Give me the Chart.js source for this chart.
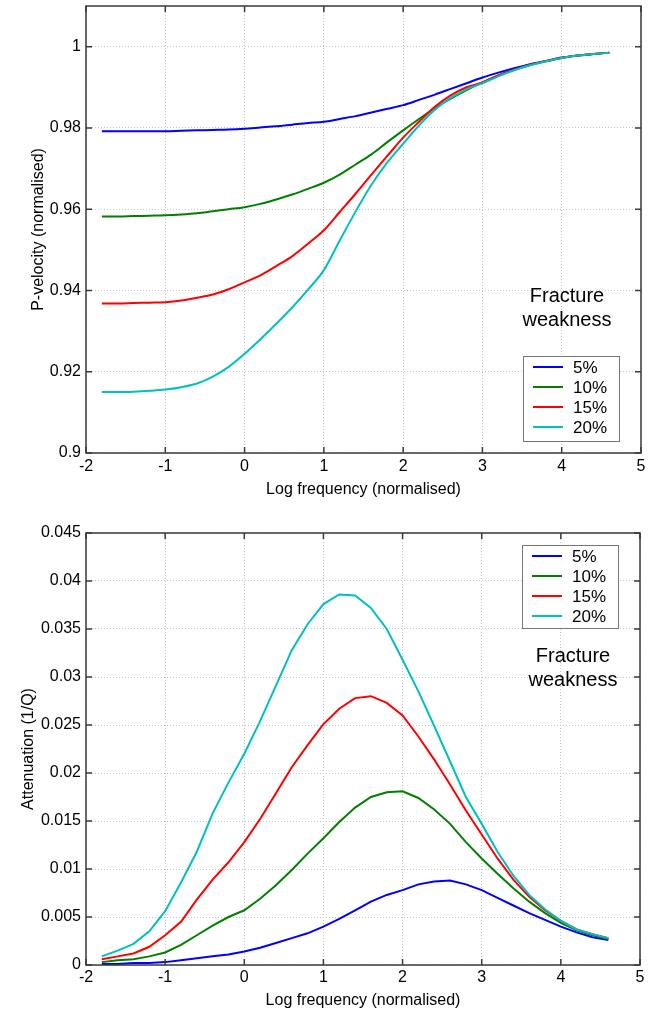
<!DOCTYPE html>
<html>
<head>
<meta charset="utf-8">
<script src="https://cdn.jsdelivr.net/npm/chart.js@4/dist/chart.umd.min.js"></script>
<style>
  html, body { margin: 0; padding: 0; background: #fff; }
  #wrap { position: relative; width: 656px; height: 1011px; }
  canvas { position: absolute; left: 0; }
  #velChart { top: 0; }
  #attChart { top: 505px; }
</style>
</head>
<body>
<div id="wrap">
  <canvas id="velChart" width="656" height="505"></canvas>
  <canvas id="attChart" width="656" height="506"></canvas>
</div>
<script>
// log frequency (normalised), shared by every curve
const logFreq = [-1.8, -1.6, -1.4, -1.2, -1.0, -0.8, -0.6, -0.4, -0.2, 0.0, 0.2, 0.4, 0.6, 0.8, 1.0,
  1.2, 1.4, 1.6, 1.8, 2.0, 2.2, 2.4, 2.6, 2.8, 3.0, 3.2, 3.4, 3.6, 3.8, 4.0, 4.2, 4.4, 4.6];

const weakness = ['5%', '10%', '15%', '20%'];
const colours = ['#0000ff', '#008000', '#ff0000', '#00c0c0'];

// P-velocity (normalised)
const vel5 = [0.9792, 0.9792, 0.9792, 0.9792, 0.9792, 0.9793, 0.9794, 0.9795, 0.9796, 0.9798, 0.9801,
  0.9804, 0.9808, 0.9812, 0.9815, 0.9822, 0.9829, 0.9838, 0.9847, 0.9856, 0.9869, 0.9882, 0.9896,
  0.9910, 0.9924, 0.9936, 0.9947, 0.9957, 0.9965, 0.9973, 0.9978, 0.9982, 0.9985];
const vel10 = [0.9582, 0.9582, 0.9583, 0.9584, 0.9585, 0.9587, 0.9590, 0.9595, 0.9600, 0.9605, 0.9613,
  0.9624, 0.9636, 0.9650, 0.9665, 0.9685, 0.9710, 0.9735, 0.9765, 0.9794, 0.9822, 0.9849, 0.9872,
  0.9893, 0.9912, 0.9929, 0.9943, 0.9955, 0.9964, 0.9972, 0.9978, 0.9982, 0.9985];
const vel15 = [0.9368, 0.9368, 0.9369, 0.9370, 0.9371, 0.9375, 0.9382, 0.9390, 0.9403, 0.9420, 0.9437,
  0.9460, 0.9484, 0.9515, 0.9548, 0.9593, 0.9638, 0.9685, 0.9731, 0.9776, 0.9815, 0.9852, 0.9880,
  0.9900, 0.9912, 0.9929, 0.9943, 0.9955, 0.9964, 0.9972, 0.9978, 0.9982, 0.9985];
const vel20 = [0.9150, 0.9150, 0.9151, 0.9153, 0.9156, 0.9162, 0.9171, 0.9188, 0.9212, 0.9244, 0.9280,
  0.9318, 0.9358, 0.9402, 0.9450, 0.9523, 0.9594, 0.9660, 0.9715, 0.9761, 0.9806, 0.9845, 0.9874,
  0.9895, 0.9910, 0.9927, 0.9942, 0.9954, 0.9964, 0.9972, 0.9978, 0.9982, 0.9985];

// Attenuation (1/Q)
const att5 = [0.0001, 0.0001, 0.0002, 0.0002, 0.0003, 0.0005, 0.0007, 0.0009, 0.0011, 0.0014, 0.0018,
  0.0023, 0.0028, 0.0033, 0.0040, 0.0048, 0.0057, 0.0066, 0.0073, 0.0078, 0.0084, 0.0087, 0.0088,
  0.0084, 0.0078, 0.0070, 0.0062, 0.0054, 0.0047, 0.0040, 0.0034, 0.0029, 0.0026];
const att10 = [0.0003, 0.0005, 0.0006, 0.0009, 0.0013, 0.0021, 0.0031, 0.0041, 0.0050, 0.0057, 0.0069,
  0.0083, 0.0099, 0.0116, 0.0132, 0.0149, 0.0164, 0.0175, 0.0180, 0.0181, 0.0174, 0.0162, 0.0147,
  0.0128, 0.0111, 0.0095, 0.0080, 0.0066, 0.0054, 0.0044, 0.0036, 0.0031, 0.0027];
const att15 = [0.0006, 0.0009, 0.0012, 0.0019, 0.0031, 0.0045, 0.0068, 0.0089, 0.0107, 0.0128, 0.0152,
  0.0179, 0.0206, 0.0229, 0.0251, 0.0267, 0.0278, 0.0280, 0.0273, 0.0260, 0.0238, 0.0214, 0.0188,
  0.0161, 0.0136, 0.0111, 0.0089, 0.0071, 0.0057, 0.0046, 0.0037, 0.0032, 0.0028];
const att20 = [0.0009, 0.0015, 0.0022, 0.0035, 0.0056, 0.0086, 0.0118, 0.0158, 0.0190, 0.0220, 0.0254,
  0.0291, 0.0328, 0.0355, 0.0376, 0.0386, 0.0385, 0.0372, 0.0350, 0.0318, 0.0285, 0.0249, 0.0212,
  0.0175, 0.0147, 0.0118, 0.0093, 0.0073, 0.0058, 0.0046, 0.0037, 0.0032, 0.0028];

const FONT = 'Arial, "Liberation Sans", Helvetica, sans-serif';

function makeDatasets(series, smooth) {
  return series.map((vals, i) => ({
    label: weakness[i],
    data: logFreq.map((x, j) => ({ x: x, y: vals[j] })),
    borderColor: colours[i],
    borderWidth: 2,
    pointRadius: 0,
    fill: false,
    tension: 0,
    cubicInterpolationMode: smooth ? 'monotone' : 'default',
    order: series.length - i
  }));
}

// box round the plot, inward tick marks, legend and the note
const framePlugin = {
  id: 'frame',
  afterDraw(chart, args, opts) {
    const { ctx, chartArea: a, scales } = chart;
    const sx = scales.x, sy = scales.y;
    ctx.save();
    ctx.strokeStyle = '#3a3a3a';
    ctx.lineWidth = 1.5;
    ctx.strokeRect(a.left, a.top, a.width, a.height);
    ctx.beginPath();
    sx.ticks.forEach(t => {
      const p = sx.getPixelForValue(t.value);
      ctx.moveTo(p, a.bottom); ctx.lineTo(p, a.bottom - 6);
      ctx.moveTo(p, a.top); ctx.lineTo(p, a.top + 6);
    });
    sy.ticks.forEach(t => {
      const p = sy.getPixelForValue(t.value);
      ctx.moveTo(a.left, p); ctx.lineTo(a.left + 6, p);
      ctx.moveTo(a.right, p); ctx.lineTo(a.right - 6, p);
    });
    ctx.stroke();

    // legend
    const lg = opts.legend;
    ctx.fillStyle = '#fff';
    ctx.fillRect(lg.x, lg.y, lg.w, lg.h);
    ctx.strokeStyle = '#777';
    ctx.lineWidth = 1;
    ctx.strokeRect(lg.x + 0.5, lg.y + 0.5, lg.w, lg.h);
    ctx.font = '17px ' + FONT;
    ctx.textBaseline = 'middle';
    ctx.textAlign = 'left';
    chart.data.datasets.forEach((ds, i) => {
      const ry = lg.y + 11 + i * 20;
      ctx.strokeStyle = ds.borderColor;
      ctx.lineWidth = 2;
      ctx.beginPath();
      ctx.moveTo(lg.x + 10, ry); ctx.lineTo(lg.x + 40, ry);
      ctx.stroke();
      ctx.fillStyle = '#000';
      ctx.fillText(ds.label, lg.x + 50, ry + 1);
    });

    // "Fracture weakness"
    const nt = opts.note;
    ctx.font = '20px ' + FONT;
    ctx.textAlign = 'center';
    ctx.fillStyle = '#000';
    nt.lines.forEach((s, i) => ctx.fillText(s, nt.x, nt.y + i * 24));
    ctx.restore();
  }
};

function makeChart(id, series, yMin, yMax, yStep, yTitle, cfg) {
  return new Chart(document.getElementById(id), {
    type: 'line',
    data: { datasets: makeDatasets(series, cfg.smooth) },
    plugins: [framePlugin],
    options: {
      responsive: false,
      animation: false,
      layout: { padding: { top: cfg.padTop, right: cfg.padRight, left: 0, bottom: 0 } },
      plugins: {
        legend: { display: false },
        tooltip: { enabled: false },
        frame: { legend: cfg.legend, note: cfg.note }
      },
      scales: {
        x: {
          type: 'linear',
          min: -2, max: 5,
          afterFit: s => { s.height = cfg.xHeight; s.paddingLeft = 0; s.paddingRight = 0; },
          grid: { color: '#c4c4c4', borderDash: [1, 2], drawTicks: false },
          border: { display: false, dash: [1, 2] },
          ticks: { stepSize: 1, padding: cfg.xTickPad, color: '#000', font: { family: FONT, size: 16 },
            callback: v => String(v) },
          title: { display: true, text: 'Log frequency (normalised)', color: '#000',
            font: { family: FONT, size: 16 }, padding: { top: 0, bottom: cfg.xTitlePad } }
        },
        y: {
          type: 'linear',
          min: yMin, max: yMax,
          afterFit: s => { s.width = 86; s.paddingTop = 0; s.paddingBottom = 0; },
          grid: { color: '#c4c4c4', borderDash: [1, 2], drawTicks: false },
          border: { display: false, dash: [1, 2] },
          ticks: { stepSize: yStep, includeBounds: false, padding: 5, color: '#000',
            font: { family: FONT, size: 16 }, callback: v => String(+v.toFixed(4)) },
          title: { display: true, text: yTitle, color: '#000',
            font: { family: FONT, size: 16 }, padding: { top: cfg.yTitlePad, bottom: 0 } }
        }
      }
    }
  });
}

makeChart('velChart', [vel5, vel10, vel15, vel20], 0.9, 1.01, 0.02, 'P-velocity (normalised)', {
  smooth: true, padTop: 6, padRight: 15, xHeight: 52, xTickPad: 4, xTitlePad: 6, yTitlePad: 29,
  legend: { x: 523, y: 356, w: 96, h: 85 },
  note: { x: 567, y: 296, lines: ['Fracture', 'weakness'] }
});

makeChart('attChart', [att5, att10, att15, att20], 0, 0.045, 0.005, 'Attenuation (1/Q)', {
  smooth: false, padTop: 28, padRight: 16, xHeight: 46, xTickPad: 3, xTitlePad: 1, yTitlePad: 19,
  legend: { x: 522, y: 40, w: 96, h: 83 },
  note: { x: 573, y: 151, lines: ['Fracture', 'weakness'] }
});
</script>
</body>
</html>
